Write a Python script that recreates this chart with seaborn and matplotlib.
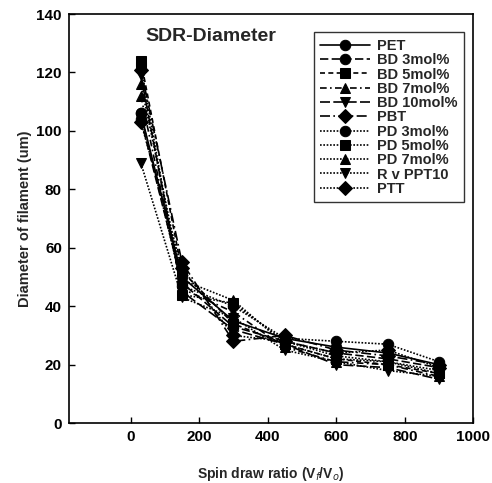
import matplotlib
matplotlib.use("Agg")
import matplotlib.pyplot as plt
import seaborn as sns
import pandas as pd

sns.set_theme(style="ticks")
plt.rcParams['font.family'] = ['Liberation Sans', 'DejaVu Sans']

x_vals = [30, 150, 300, 450, 600, 750, 900]
series_names = ["PET", "BD 3mol%", "BD 5mol%", "BD 7mol%", "BD 10mol%", "PBT",
                "PD 3mol%", "PD 5mol%", "PD 7mol%", "R v PPT10", "PTT"]
pet = [106, 50, 35, 29, 26, 24, 20]
bd3 = [104, 48, 33, 28, 24, 22, 19]
bd5 = [124, 52, 34, 27, 22, 20, 17]
bd7 = [112, 46, 38, 26, 21, 20, 16]
bd10 = [119, 45, 32, 27, 20, 19, 15]
pbt = [121, 55, 28, 30, 25, 23, 20]
pd3 = [106, 47, 40, 29, 28, 27, 21]
pd5 = [122, 44, 41, 28, 23, 21, 17]
pd7 = [116, 49, 42, 27, 22, 21, 18]
rv10 = [89, 43, 36, 25, 21, 18, 16]
ptt = [103, 53, 30, 28, 24, 25, 19]
all_values = [pet, bd3, bd5, bd7, bd10, pbt, pd3, pd5, pd7, rv10, ptt]

markers = ["o", "o", "s", "^", "v", "D", "o", "s", "^", "v", "D"]
dashes = ["", (5, 2), (3, 2), (4, 2, 1, 2), (6, 2), (6, 2, 1, 2),
          (1, 1), (1, 1), (1, 1), (1, 1), (1, 1)]

rows = []
for name, vals in zip(series_names, all_values):
    for xv, yv in zip(x_vals, vals):
        rows.append({"x": xv, "y": yv, "series": name})
df = pd.DataFrame(rows)

fig = plt.figure(figsize=(4.92, 4.83), dpi=100)
ax = fig.add_axes([0.140, 0.124, 0.822, 0.847])

sns.lineplot(data=df, x="x", y="y", hue="series", style="series",
             hue_order=series_names, style_order=series_names,
             palette=["black"] * len(series_names),
             markers=dict(zip(series_names, markers)),
             dashes=dict(zip(series_names, dashes)),
             markersize=7.5, linewidth=1.2, markeredgecolor="black",
             ax=ax)

ax.set_xlim(-180, 1000)
ax.set_ylim(0, 140)
ax.set_xticks([0, 200, 400, 600, 800, 1000])
ax.set_yticks([0, 20, 40, 60, 80, 100, 120, 140])
ax.tick_params(direction="in", length=4, width=1, labelsize=11, colors="black",
               top=False, right=False, pad=5)
for lab in ax.get_xticklabels() + ax.get_yticklabels():
    lab.set_fontweight("bold")
for sp in ax.spines.values():
    sp.set_visible(True)
    sp.set_color("black")
    sp.set_linewidth(1.2)

ax.set_xlabel("Spin draw ratio (V$_f$/V$_o$)", fontsize=10, fontweight="bold",
              labelpad=15)
ax.set_ylabel("Diameter of filament (um)", fontsize=10.5, fontweight="bold",
              labelpad=3)

ax.text(0.351, 0.944, "SDR-Diameter", transform=ax.transAxes, fontsize=14,
        fontweight="bold", ha="center", va="center")

leg = ax.legend(loc="upper right", bbox_to_anchor=(0.977, 0.955), frameon=True,
                fancybox=False, edgecolor="black", fontsize=10.5,
                handlelength=3.4, labelspacing=0.02, borderpad=0.45,
                handletextpad=0.5, borderaxespad=0.0, title=None)
leg.get_frame().set_linewidth(1.0)
for t in leg.get_texts():
    t.set_fontweight("bold")

fig.savefig("out.png", dpi=100)
